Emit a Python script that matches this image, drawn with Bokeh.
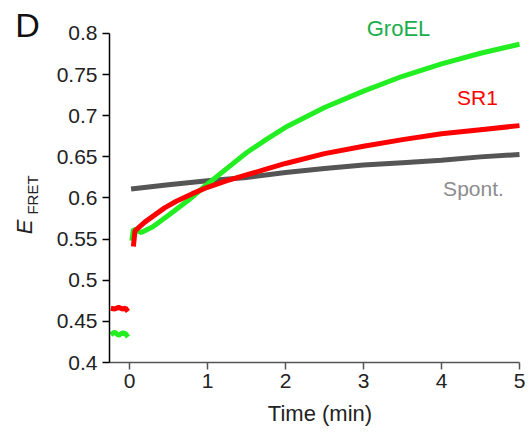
import math
from bokeh.plotting import figure
from bokeh.layouts import row
from bokeh.models import Label, FixedTicker, Range1d
from bokeh.embed import file_html
from bokeh.resources import INLINE

# ---- data ----
t_pre = [-0.24, -0.19, -0.14, -0.09, -0.05, -0.02]
red_pre = [0.466, 0.465, 0.467, 0.465, 0.466, 0.462]
green_pre = [0.434, 0.437, 0.433, 0.436, 0.435, 0.431]

t_red = [0.05, 0.07, 0.2, 0.45, 0.6, 0.8, 1.0, 1.25, 1.5, 1.75, 2.0, 2.5, 3.0,
         3.5, 4.0, 4.5, 5.0]
red = [0.541, 0.560, 0.571, 0.588, 0.596, 0.605, 0.613, 0.621, 0.628, 0.635,
       0.642, 0.654, 0.663, 0.671, 0.678, 0.683, 0.688]

t_green = [0.03, 0.05, 0.15, 0.3, 0.5, 0.75, 1.0, 1.25, 1.5, 1.75, 2.0, 2.5,
           3.0, 3.5, 4.0, 4.5, 5.0]
green = [0.548, 0.562, 0.558, 0.565, 0.579, 0.597, 0.617, 0.636, 0.655, 0.671,
         0.686, 0.710, 0.730, 0.748, 0.763, 0.776, 0.787]

t_spont = [0.02, 0.5, 1.0, 1.5, 2.0, 2.5, 3.0, 3.5, 4.0, 4.5, 5.0]
spont = [0.611, 0.616, 0.621, 0.625, 0.631, 0.636, 0.640, 0.643, 0.646, 0.650, 0.653]

x_ticks = [0, 1, 2, 3, 4, 5]
y_ticks = [0.4, 0.45, 0.5, 0.55, 0.6, 0.65, 0.7, 0.75, 0.8]
y_tick_labels = ["0.4", "0.45", "0.5", "0.55", "0.6", "0.65", "0.7", "0.75", "0.8"]

FONT = "Liberation Sans"
GREEN = "#22ee22"
RED = "#ff0000"
GRAY = "#555555"

# ---- left strip with panel letter and y-axis title ----
# (its frame is aligned with the main plot's frame: 362 px tall, 70 px bottom border)
side = figure(width=50, height=432, output_backend="svg", toolbar_location=None,
              x_range=Range1d(0, 50), y_range=Range1d(70, 432),
              x_axis_type=None, y_axis_type=None,
              min_border_left=0, min_border_right=0, min_border_top=0,
              min_border_bottom=70)
side.outline_line_color = None
side.grid.visible = False


def lab(fig, x, y, text, size, color, angle=0.0, style="normal"):
    fig.add_layout(Label(x=x, y=y, text=text, text_font=FONT, text_font_size=size,
                         text_color=color, text_align="center",
                         text_baseline="middle", angle=angle,
                         text_font_style=style))


lab(side, 27, 432 - 24.5, "D", "34px", "#111111")
lab(side, 24, 432 - 226.5, "E", "22px", "#222222", angle=math.pi / 2, style="italic")
lab(side, 32, 432 - 194.5, "FRET", "15px", "#222222", angle=math.pi / 2)

# ---- main plot ----
p = figure(width=480, height=432, output_backend="svg", toolbar_location=None,
           x_range=Range1d(-0.2564, 5.141), y_range=Range1d(0.4, 0.84012),
           min_border_left=59, min_border_right=0, min_border_top=0,
           min_border_bottom=70)
p.outline_line_color = None
p.grid.visible = False
p.background_fill_color = "white"

lw = 5
p.line(t_spont, spont, line_color=GRAY, line_width=lw)
p.line(t_pre, red_pre, line_color=RED, line_width=lw)
p.line(t_pre, green_pre, line_color=GREEN, line_width=lw)
p.line(t_green, green, line_color=GREEN, line_width=lw)
p.line(t_red, red, line_color=RED, line_width=lw)

p.xaxis.ticker = FixedTicker(ticks=x_ticks)
p.yaxis.ticker = FixedTicker(ticks=y_ticks)
p.yaxis.major_label_overrides = {v: s for v, s in zip(y_ticks, y_tick_labels)}
p.xaxis.bounds = (-0.2564, 5.0)
p.yaxis.bounds = (0.4, 0.8)
for ax in (p.xaxis[0], p.yaxis[0]):
    ax.minor_tick_line_color = None
    ax.major_tick_in = 0
    ax.major_tick_out = 7
    ax.major_tick_line_width = 1.5
    ax.axis_line_width = 1.5
    ax.major_label_text_font = FONT
    ax.major_label_text_font_size = "21px"
    ax.major_label_text_color = "#222222"
    ax.major_label_standoff = 5
p.yaxis.axis_line_color = "black"
p.yaxis.major_tick_line_color = "black"
p.xaxis.axis_line_color = "#555555"
p.xaxis.major_tick_line_color = "#555555"
p.xaxis.major_label_standoff = 4
p.xaxis.axis_label = "Time (min)"
p.xaxis.axis_label_text_font = FONT
p.xaxis.axis_label_text_font_size = "22px"
p.xaxis.axis_label_text_font_style = "normal"
p.xaxis.axis_label_text_color = "#222222"
p.xaxis.axis_label_standoff = 10

lab(p, 3.449, 0.8055, "GroEL", "22px", "#1aae4c")
lab(p, 4.462, 0.7222, "SR1", "21px", RED)
lab(p, 4.41, 0.6116, "Spont.", "21px", "#8c8c8c")

layout = row(side, p, spacing=0)
open("out.html", "w").write(file_html(layout, INLINE))
